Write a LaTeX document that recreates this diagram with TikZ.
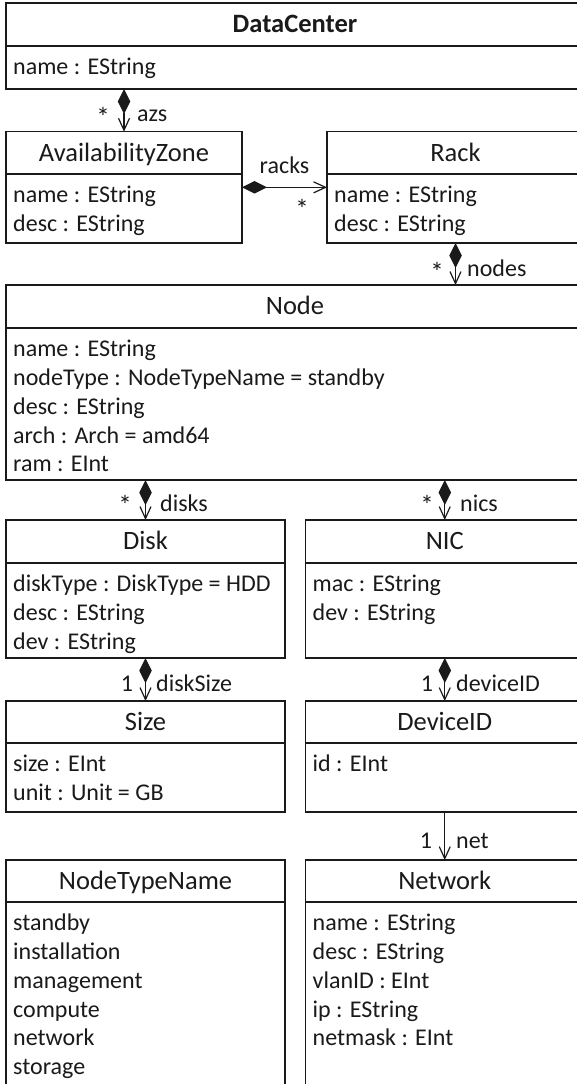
\documentclass[tikz,border=0pt]{standalone}
\usepackage{fontspec}
\setmainfont{Carlito}
\usetikzlibrary{arrows.meta,calc}
\definecolor{ink}{HTML}{1A1A1A}

\tikzset{
  cls/.style={draw=ink, line width=1.4pt, rectangle, inner sep=0pt, outer sep=0pt, anchor=north west},
  sep/.style={draw=ink, line width=1.4pt},
  title/.style={inner sep=0pt, anchor=base, text=ink, font=\fontsize{26.5pt}{30pt}\selectfont},
  attr/.style={inner sep=0pt, anchor=base west, text=ink, font=\fontsize{24pt}{28.9pt}\selectfont},
  lbl/.style={inner sep=0pt, anchor=base, text=ink, font=\fontsize{24pt}{28.9pt}\selectfont},
  lblw/.style={lbl, anchor=base west},
  mult/.style={lbl, font=\fontsize{27pt}{28.9pt}\selectfont},
  comp/.style={draw=ink, line width=1.2pt,
    {Diamond[length=25pt,width=12.5pt]}-{Straight Barb[length=12pt,width=11pt]}},
  ref/.style={draw=ink, line width=1.2pt, -{Straight Barb[length=12pt,width=11pt]}},
}

% class box: name, left, top, right, bottom, y of the compartment rule
\newcommand{\umlbox}[6]{%
  \node[cls, minimum width={#4-#2}, minimum height={#5-#3}] (#1) at (#2,#3) {};
  \coordinate (#1-div) at (#2,#6);
  \draw[sep] (#1-div) -- (#1-div -| #1.east);
}
% class title, centred in the top compartment
\newcommand{\umltitle}[3][]{%
  \node[title,#1] (#2-t) at ($(#2.north)!0.5!(#2-div -| #2.north)+(0,8.3)$) {#3};
}
% attribute lines below the rule
\newcommand{\umlattrs}[2]{%
  \foreach \txt [count=\i] in {#2} {
    \node[attr] (#1-a\i) at ($(#1-div)+(7,{28.3+28.9*(\i-1)})$) {\txt};
  }
}

\begin{document}
\begin{tikzpicture}[x=1pt,y=-1pt]
\useasboundingbox (0,0) rectangle (577,1084);
\clip (0,0) rectangle (577,1084);
\fill[white] (0,0) rectangle (577,1084);

% classes
\umlbox{dc}{6}{3}{584}{89}{46}
\umltitle[font=\fontsize{26.5pt}{30pt}\selectfont\bfseries]{dc}{DataCenter}
\umlattrs{dc}{name : EString}

\umlbox{az}{6}{131.7}{242}{243}{174}
\umltitle{az}{AvailabilityZone}
\umlattrs{az}{name : EString, desc : EString}

\umlbox{rack}{327}{131.7}{584}{243}{174}
\umltitle{rack}{Rack}
\umlattrs{rack}{name : EString, desc : EString}

\umlbox{node}{6}{285}{584}{480}{328}
\umltitle{node}{Node}
\umlattrs{node}{name : EString, nodeType : NodeTypeName = standby, desc : EString, arch : Arch = amd64, ram : EInt}

\umlbox{disk}{6}{520}{285}{658}{563}
\umltitle{disk}{Disk}
\umlattrs{disk}{diskType : DiskType = HDD, desc : EString, dev : EString}

\umlbox{nic}{305.5}{520}{584}{658}{563}
\umltitle{nic}{NIC}
\umlattrs{nic}{mac : EString, dev : EString}

\umlbox{size}{6}{701}{285}{812}{743}
\umltitle{size}{Size}
\umlattrs{size}{size : EInt, unit : Unit = GB}

\umlbox{devid}{305.5}{701}{584}{812}{743}
\umltitle{devid}{DeviceID}
\umlattrs{devid}{id : EInt}

\umlbox{ntn}{6}{860}{285}{1110}{902}
\umltitle{ntn}{NodeTypeName}
\umlattrs{ntn}{standby, installation, management, compute, network, storage}

\umlbox{netw}{305.5}{860}{584}{1110}{902}
\umltitle{netw}{Network}
\umlattrs{netw}{name : EString, desc : EString, vlanID : EInt, ip : EString, netmask : EInt}

% associations
\draw[comp] (dc.south -| az.north) -- (az.north);
\draw[comp] (az.east) -- (az.east -| rack.west);
\draw[comp] (rack.south) -- (rack.south |- node.north);
\draw[comp] (node.south -| disk.north) -- (disk.north);
\draw[comp] (node.south -| nic.north) -- (nic.north);
\draw[comp] (disk.south) -- (size.north);
\draw[comp] (nic.south) -- (devid.north);
\draw[ref] (devid.south) -- (netw.north);

% role names and multiplicities
\node[mult] (m-azs)   at (103,126.5) {*};
\node[lblw] (r-azs)   at (137,121) {azs};
\node[lbl]  (r-racks) at (284.5,173.3) {racks};
\node[mult] (m-racks) at (302,218.5) {*};
\node[mult] (m-nodes) at (437,281.5) {*};
\node[lblw] (r-nodes) at (467,276) {nodes};
\node[mult] (m-disks) at (125,514) {*};
\node[lblw] (r-disks) at (160,511) {disks};
\node[mult] (m-nics)  at (427,514) {*};
\node[lblw] (r-nics)  at (460,511) {nics};
\node[lbl]  (m-size)  at (127,691) {1};
\node[lblw] (r-size)  at (156,691) {diskSize};
\node[lbl]  (m-devid) at (427,691) {1};
\node[lblw] (r-devid) at (456,691) {deviceID};
\node[lbl]  (m-net)   at (426,848) {1};
\node[lblw] (r-net)   at (456,848) {net};
\end{tikzpicture}
\end{document}
